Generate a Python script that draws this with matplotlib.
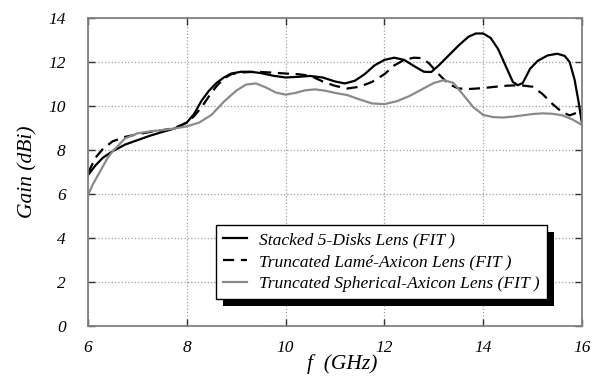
import matplotlib
matplotlib.use('Agg')
import matplotlib.pyplot as plt
from matplotlib.patches import Rectangle

plt.rcParams['font.family'] = 'Liberation Serif'
plt.rcParams['font.style'] = 'italic'

# stacked 5-disks lens
f_stacked = [6.0, 6.15, 6.3, 6.5, 6.75, 7.0, 7.25, 7.5, 7.75, 8.0, 8.15, 8.3, 8.45, 8.6,
             8.75, 8.9, 9.1, 9.3, 9.5, 9.75, 10.0, 10.25, 10.5, 10.75, 11.0, 11.2, 11.4,
             11.6, 11.8, 12.0, 12.2, 12.4, 12.6, 12.8, 12.95, 13.1, 13.3, 13.5, 13.7,
             13.85, 14.0, 14.15, 14.3, 14.45, 14.6, 14.7, 14.8, 14.95, 15.1, 15.3, 15.5,
             15.65, 15.75, 15.85, 15.93, 16.0]
g_stacked = [6.86, 7.3, 7.65, 7.95, 8.25, 8.45, 8.65, 8.82, 8.98, 9.25, 9.65, 10.25, 10.7,
             11.05, 11.3, 11.48, 11.56, 11.56, 11.5, 11.38, 11.3, 11.33, 11.37, 11.3, 11.12,
             11.03, 11.15, 11.45, 11.85, 12.1, 12.2, 12.1, 11.82, 11.56, 11.55, 11.85, 12.3,
             12.75, 13.15, 13.3, 13.3, 13.1, 12.6, 11.85, 11.1, 10.95, 11.05, 11.7, 12.05,
             12.3, 12.38, 12.28, 12.0, 11.2, 10.2, 9.2]

# truncated Lame-axicon lens
f_lame = [6.0, 6.15, 6.3, 6.5, 6.75, 7.0, 7.25, 7.5, 7.75, 8.0, 8.15, 8.3, 8.45, 8.6, 8.75,
          8.9, 9.1, 9.3, 9.5, 9.75, 10.0, 10.25, 10.5, 10.75, 11.0, 11.25, 11.5, 11.75,
          12.0, 12.2, 12.4, 12.6, 12.75, 12.9, 13.1, 13.3, 13.5, 13.75, 14.0, 14.25, 14.5,
          14.75, 15.0, 15.2, 15.4, 15.6, 15.75, 15.9, 16.0]
g_lame = [6.95, 7.65, 8.05, 8.4, 8.6, 8.72, 8.82, 8.9, 9.0, 9.25, 9.55, 9.95, 10.45, 10.9,
          11.25, 11.45, 11.53, 11.55, 11.55, 11.52, 11.48, 11.45, 11.38, 11.12, 10.92, 10.8,
          10.88, 11.1, 11.45, 11.85, 12.1, 12.2, 12.18, 11.95, 11.45, 11.0, 10.8, 10.78,
          10.82, 10.88, 10.93, 10.95, 10.88, 10.55, 10.1, 9.72, 9.58, 9.7, 9.8]

# truncated spherical-axicon lens
f_sph = [6.0, 6.1, 6.2, 6.3, 6.4, 6.5, 6.75, 7.0, 7.25, 7.5, 7.75, 8.0, 8.25, 8.5, 8.75,
         9.0, 9.2, 9.4, 9.6, 9.8, 10.0, 10.2, 10.4, 10.6, 10.8, 11.0, 11.25, 11.5, 11.75,
         12.0, 12.25, 12.5, 12.75, 13.0, 13.2, 13.4, 13.6, 13.8, 14.0, 14.2, 14.4, 14.6,
         14.8, 15.0, 15.2, 15.4, 15.6, 15.8, 16.0]
g_sph = [5.95, 6.45, 6.85, 7.25, 7.65, 7.95, 8.53, 8.76, 8.85, 8.91, 8.98, 9.08, 9.25, 9.6,
         10.2, 10.7, 10.98, 11.03, 10.85, 10.62, 10.52, 10.6, 10.72, 10.76, 10.7, 10.6, 10.5,
         10.3, 10.12, 10.09, 10.22, 10.45, 10.75, 11.05, 11.18, 11.05, 10.5, 9.95, 9.6, 9.5,
         9.48, 9.52, 9.58, 9.64, 9.67, 9.65, 9.58, 9.4, 9.14]

labels = ['Stacked 5-Disks Lens (FIT )',
          'Truncated Lamé-Axicon Lens (FIT )',
          'Truncated Spherical-Axicon Lens (FIT )']

fig = plt.figure(figsize=(6.01, 3.85), dpi=100)
ax = fig.add_axes([0.1464, 0.153, 0.822, 0.8])

ax.plot(f_stacked, g_stacked, color='black', lw=1.6, label=labels[0])
ax.plot(f_lame, g_lame, color='black', lw=1.6, ls=(0, (5, 3)), label=labels[1])
ax.plot(f_sph, g_sph, color='#8a8a8a', lw=1.6, label=labels[2])

ax.set_xlim(6, 16)
ax.set_ylim(0, 14)
ax.set_xticks(range(6, 17, 2))
ax.set_yticks(range(0, 15, 2))
ax.grid(True, ls=':', color='#a0a0a0', lw=0.9)
ax.tick_params(direction='in', length=5, width=1, top=True, right=True,
               labelsize=12.5, color='#333333')
ax.tick_params(axis='x', pad=10)
ax.tick_params(axis='y', pad=16)
for sp in ax.spines.values():
    sp.set_color('#808080')
    sp.set_linewidth(1.3)

ax.set_xlabel('f  (GHz)', fontsize=15.5)
ax.xaxis.set_label_coords(0.515, -0.09)
ax.set_ylabel('Gain (dBi)', fontsize=15.5)
ax.yaxis.set_label_coords(-0.103, 0.5)

leg = ax.legend(loc='lower right', bbox_to_anchor=(0.929, 0.088),
                prop={'style': 'italic', 'size': 12.6}, fancybox=False,
                framealpha=1, edgecolor='black', handlelength=1.4,
                handletextpad=0.7, labelspacing=0.32, borderpad=0.4,
                borderaxespad=0)
leg.get_frame().set_linewidth(1.0)
leg.set_zorder(5)

# solid drop shadow behind the legend box
fig.canvas.draw()
bb = leg.get_window_extent()
shadow = Rectangle((bb.x0 + 7, bb.y0 - 7), bb.width, bb.height, transform=None,
                   facecolor='black', edgecolor='none', zorder=4)
ax.add_artist(shadow)

fig.savefig('out.png', dpi=100)
